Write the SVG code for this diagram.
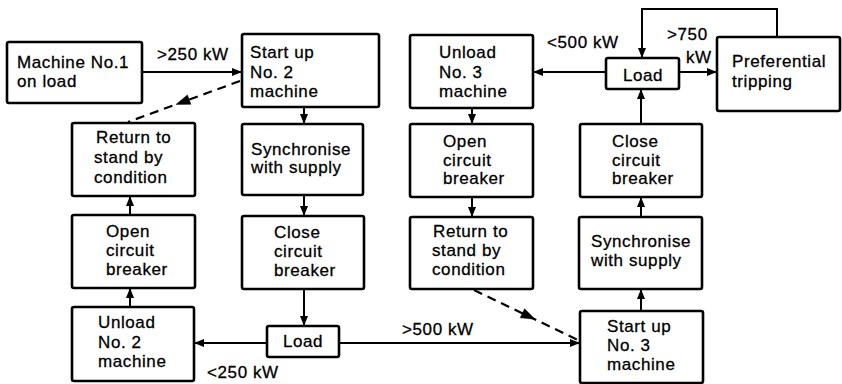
<svg xmlns="http://www.w3.org/2000/svg" width="842" height="384" viewBox="0 0 842 384">
<style>
  .box { fill: #fff; stroke: #000; stroke-width: 2.6; }
  .t { font-family: "Liberation Sans", Arial, sans-serif; font-size: 17px; letter-spacing: 0.6px; fill: #000; stroke: #000; stroke-width: 0.3; }
  .c { text-anchor: middle; }
  .ln { fill: none; stroke: #000; stroke-width: 2; }
  .dash { stroke-dasharray: 9 6; stroke-width: 2.2; }
  .dseg { fill: none; stroke: #000; stroke-width: 2.2; }
  .head { fill: #000; stroke: #000; stroke-width: 0.5; }
</style>
<defs>
  <marker id="ah" viewBox="0 0 10 8" refX="10" refY="4" markerWidth="10" markerHeight="8" markerUnits="userSpaceOnUse" orient="auto">
    <path d="M0,0 L10,4 L0,8 Z" fill="#000"/>
  </marker>
</defs>
<rect width="842" height="384" fill="#fff"/>

<g id="connectors">
  <path class="ln" d="M142,72 H242" marker-end="url(#ah)"/>
  <path class="dseg" d="M240,81 L231.55,84.09 M225.92,86.16 L217.47,89.25 M211.84,91.31 L203.39,94.4 M197.75,96.47 L189.31,99.56 M172.41,105.75 L163.96,108.84 M158.32,110.9 L149.88,113.99 M144.24,116.06 L135.79,119.15 M130.16,121.21 L128,122"/>
  <polygon class="head" points="176,104.4 190.9,104.3 187.4,94.9"/>
  <path class="ln" d="M304,107 V124" marker-end="url(#ah)"/>
  <path class="ln" d="M304,195 V216" marker-end="url(#ah)"/>
  <path class="ln" d="M304,289 V326" marker-end="url(#ah)"/>
  <path class="ln" d="M267,343 H194" marker-end="url(#ah)"/>
  <path class="ln" d="M130,307 V288" marker-end="url(#ah)"/>
  <path class="ln" d="M130,215 V196" marker-end="url(#ah)"/>
  <path class="ln" d="M339,343 H580" marker-end="url(#ah)"/>
  <path class="ln" d="M641,311 V289" marker-end="url(#ah)"/>
  <path class="ln" d="M641,217 V197" marker-end="url(#ah)"/>
  <path class="ln" d="M641,124 V89" marker-end="url(#ah)"/>
  <path class="ln" d="M606,72 H533" marker-end="url(#ah)"/>
  <path class="ln" d="M679,72 H717" marker-end="url(#ah)"/>
  <path class="ln" d="M777,37 V9 H642 V58" marker-end="url(#ah)"/>
  <path class="ln" d="M472,108 V124" marker-end="url(#ah)"/>
  <path class="ln" d="M472,197 V217" marker-end="url(#ah)"/>
  <path class="ln dash" d="M474,290 L578,340"/>
  <polygon class="head" points="535,319.3 520.2,317.7 524.6,308.7"/>
</g>

<g id="labels">
  <text class="t" x="157" y="60">&gt;250 kW</text>
  <text class="t" x="547" y="48">&lt;500 kW</text>
  <text class="t" x="667" y="40">&gt;750</text>
  <text class="t" x="686" y="63">kW</text>
  <text class="t" x="207" y="378">&lt;250 kW</text>
  <text class="t" x="402" y="335">&gt;500 kW</text>
</g>

<g id="m1">
  <rect class="box" x="7" y="42" width="135" height="61" rx="2"/>
  <text class="t" x="17" y="68">Machine No.1</text>
  <text class="t" x="17" y="87">on load</text>
</g>
<g id="su2">
  <rect class="box" x="242" y="34" width="137" height="73" rx="2"/>
  <text class="t" x="250" y="58">Start up</text>
  <text class="t" x="250" y="78">No. 2</text>
  <text class="t" x="250" y="97">machine</text>
</g>
<g id="ret2">
  <rect class="box" x="72" y="123" width="123" height="73" rx="2"/>
  <text class="t" x="96" y="143">Return to</text>
  <text class="t" x="94" y="163">stand by</text>
  <text class="t" x="94" y="183">condition</text>
</g>
<g id="sync2">
  <rect class="box" x="242" y="124" width="121" height="71" rx="2"/>
  <text class="t" x="251" y="155">Synchronise</text>
  <text class="t" x="251" y="173">with supply</text>
</g>
<g id="open2">
  <rect class="box" x="72" y="215" width="123" height="73" rx="2"/>
  <text class="t" x="106" y="237">Open</text>
  <text class="t" x="106" y="256">circuit</text>
  <text class="t" x="106" y="275">breaker</text>
</g>
<g id="close2">
  <rect class="box" x="242" y="216" width="122" height="73" rx="2"/>
  <text class="t" x="274" y="238">Close</text>
  <text class="t" x="274" y="257">circuit</text>
  <text class="t" x="274" y="276">breaker</text>
</g>
<g id="unload2">
  <rect class="box" x="72" y="307" width="122" height="74" rx="2"/>
  <text class="t" x="98" y="328">Unload</text>
  <text class="t" x="98" y="348">No. 2</text>
  <text class="t" x="98" y="367">machine</text>
</g>
<g id="load2">
  <rect class="box" x="267" y="326" width="72" height="31" rx="2"/>
  <text class="t c" x="303" y="347">Load</text>
</g>
<g id="unload3">
  <rect class="box" x="410" y="35" width="123" height="73" rx="2"/>
  <text class="t" x="439" y="58">Unload</text>
  <text class="t" x="439" y="78">No. 3</text>
  <text class="t" x="439" y="97">machine</text>
</g>
<g id="load3">
  <rect class="box" x="606" y="58" width="73" height="31" rx="2"/>
  <text class="t c" x="643" y="81">Load</text>
</g>
<g id="pref">
  <rect class="box" x="717" y="37" width="123" height="74" rx="2"/>
  <text class="t" x="732" y="67">Preferential</text>
  <text class="t" x="732" y="87">tripping</text>
</g>
<g id="open3">
  <rect class="box" x="410" y="124" width="123" height="73" rx="2"/>
  <text class="t" x="443" y="147">Open</text>
  <text class="t" x="443" y="166">circuit</text>
  <text class="t" x="443" y="184">breaker</text>
</g>
<g id="close3">
  <rect class="box" x="580" y="124" width="122" height="73" rx="2"/>
  <text class="t" x="612" y="147">Close</text>
  <text class="t" x="612" y="166">circuit</text>
  <text class="t" x="612" y="184">breaker</text>
</g>
<g id="ret3">
  <rect class="box" x="410" y="217" width="123" height="72" rx="2"/>
  <text class="t" x="433" y="237">Return to</text>
  <text class="t" x="432" y="256">stand by</text>
  <text class="t" x="432" y="275">condition</text>
</g>
<g id="sync3">
  <rect class="box" x="579" y="217" width="123" height="72" rx="2"/>
  <text class="t" x="591" y="247">Synchronise</text>
  <text class="t" x="591" y="266">with supply</text>
</g>
<g id="su3">
  <rect class="box" x="580" y="311" width="123" height="72" rx="2"/>
  <text class="t" x="607" y="332">Start up</text>
  <text class="t" x="607" y="351">No. 3</text>
  <text class="t" x="607" y="370">machine</text>
</g>
</svg>
